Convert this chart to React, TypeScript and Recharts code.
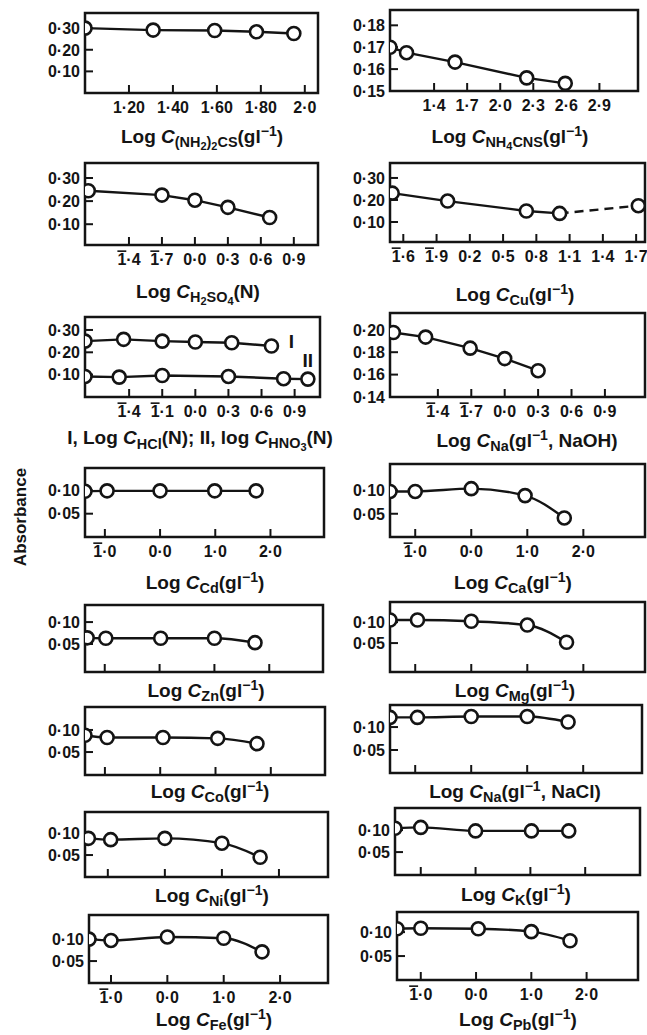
import React from 'react';
import { LineChart, Line, XAxis, YAxis, ReferenceArea, ReferenceDot } from 'recharts';

// ---- data ----
const thioX = [1.0, 1.31, 1.59, 1.78, 1.95];
const thioY = [0.3, 0.291, 0.289, 0.283, 0.275];
const thioTicks = [1.2, 1.4, 1.6, 1.8, 2.0];
const thioLabels = ['1·20', '1·40', '1·60', '1·80', '2·0'];

const cnsX = [1.0, 1.15, 1.59, 2.24, 2.59];
const cnsY = [0.17, 0.1675, 0.1632, 0.156, 0.1535];
const cnsTicks = [1.4, 1.7, 2.0, 2.3, 2.6, 2.9];
const cnsLabels = ['1·4', '1·7', '2·0', '2·3', '2·6', '2·9'];

const acidTicks = [-0.6, -0.3, 0, 0.3, 0.6, 0.9];
const sulfX = [-0.97, -0.3, 0.0, 0.3, 0.68];
const sulfY = [0.245, 0.226, 0.204, 0.173, 0.129];
const sulfLabels = ['1\u0305·4', '1\u0305·7', '0·0', '0·3', '0·6', '0·9'];

const cuX = [-0.5, 0.0, 0.71, 1.01];
const cuY = [0.231, 0.195, 0.15, 0.139];
const cuDashX = [1.01, 1.72];
const cuDashY = [0.139, 0.174];
const cuTicks = [-0.4, -0.1, 0.2, 0.5, 0.8, 1.1, 1.4, 1.7];
const cuLabels = ['1\u0305·6', '1\u0305·9', '0·2', '0·5', '0·8', '1·1', '1·4', '1·7'];

const hclX = [-1.0, -0.65, -0.3, 0.0, 0.33, 0.69];
const hclY = [0.25, 0.258, 0.25, 0.246, 0.243, 0.228];
const hno3X = [-1.0, -0.69, -0.3, 0.3, 0.8, 1.02];
const hno3Y = [0.092, 0.089, 0.096, 0.092, 0.082, 0.08];
const hclLabels = ['1\u0305·4', '1\u0305·1', '0·0', '0·3', '0·6', '0·9'];
const acidNames = ['I', 'II'];
const acidNameX = [0.87, 1.02];
const acidNameY = [0.25, 0.166];

const naohX = [-1.0, -0.71, -0.31, 0.0, 0.3];
const naohY = [0.1976, 0.1935, 0.1836, 0.1743, 0.1635];

const metalTicks = [-1, 0, 1, 2];
const metalLabels = ['1\u0305·0', '0·0', '1·0', '2·0'];
const cdX = [-1.36, -0.96, 0.0, 0.99, 1.74];
const cdY = [0.098, 0.099, 0.099, 0.099, 0.099];
const caX = [-1.45, -1.0, 0.0, 0.96, 1.66];
const caY = [0.098, 0.098, 0.104, 0.089, 0.041];
const znX = [-1.32, -0.98, 0.02, 1.0, 1.74];
const znY = [0.064, 0.063, 0.063, 0.063, 0.053];
const mgX = [-1.45, -0.96, 0.0, 1.0, 1.7];
const mgY = [0.105, 0.105, 0.102, 0.093, 0.052];
const coX = [-1.36, -0.96, 0.05, 1.04, 1.75];
const coY = [0.088, 0.083, 0.083, 0.081, 0.069];
const naclX = [-1.45, -0.96, 0.0, 1.0, 1.73];
const naclY = [0.121, 0.121, 0.123, 0.123, 0.111];
const niX = [-1.34, -0.95, 0.0, 1.0, 1.67];
const niY = [0.088, 0.085, 0.088, 0.077, 0.045];
const kX = [-1.47, -1.0, 0.0, 1.02, 1.7];
const kY = [0.104, 0.106, 0.098, 0.098, 0.098];
const feX = [-1.39, -1.0, 0.0, 1.0, 1.68];
const feY = [0.1, 0.097, 0.105, 0.102, 0.071];
const pbX = [-1.43, -1.0, 0.04, 1.0, 1.7];
const pbY = [0.107, 0.108, 0.107, 0.101, 0.082];

// ---- styling ----
const INK = '#141414';
const FONT = '"Liberation Sans", Arial, Helvetica, sans-serif';
const ML = 72;
const MB = 34;
const MT = 12;
const MR = 12;
const TICK_FS = 16;

const Sub = ({ children }: { children: React.ReactNode }) => (
  <span style={{ fontSize: '0.76em', verticalAlign: '-0.3em' }}>{children}</span>
);
const Sup = ({ children }: { children: React.ReactNode }) => (
  <span style={{ fontSize: '0.74em', verticalAlign: '0.5em' }}>{children}</span>
);
const C = () => <i>C</i>;
const gl = (
  <>
    (gl<Sup>−1</Sup>)
  </>
);

type Series = { xs: number[]; ys: number[]; dashed?: boolean };
type Panel = {
  box: [number, number, number, number];
  xDomain: [number, number];
  yDomain: [number, number];
  xTicks: number[];
  xLabels?: string[];
  yTicks: number[];
  curve: 'linear' | 'monotone';
  series: Series[];
  title: React.ReactNode;
  titleAt: [number, number];
  names?: boolean;
};

const panels: Panel[] = [
  {
    box: [85, 13, 233, 80], xDomain: [1.0, 2.06], yDomain: [0, 0.37],
    xTicks: thioTicks, xLabels: thioLabels, yTicks: [0.1, 0.2, 0.3], curve: 'linear',
    series: [{ xs: thioX, ys: thioY }],
    title: <>Log <C /><Sub>(NH<Sub>2</Sub>)<Sub>2</Sub>CS</Sub>{gl}</>, titleAt: [202, 138],
  },
  {
    box: [390, 10, 248, 81], xDomain: [1.0, 3.25], yDomain: [0.15, 0.187],
    xTicks: cnsTicks, xLabels: cnsLabels, yTicks: [0.15, 0.16, 0.17, 0.18], curve: 'linear',
    series: [{ xs: cnsX, ys: cnsY }],
    title: <>Log <C /><Sub>NH<Sub>4</Sub>CNS</Sub>{gl}</>, titleAt: [510, 138],
  },
  {
    box: [85, 163, 233, 82], xDomain: [-1.0, 1.12], yDomain: [0.01, 0.365],
    xTicks: acidTicks, xLabels: sulfLabels, yTicks: [0.1, 0.2, 0.3], curve: 'linear',
    series: [{ xs: sulfX, ys: sulfY }],
    title: <>Log <C /><Sub>H<Sub>2</Sub>SO<Sub>4</Sub></Sub>(N)</>, titleAt: [198, 295],
  },
  {
    box: [390, 163, 255, 79], xDomain: [-0.52, 1.78], yDomain: [0.009, 0.368],
    xTicks: cuTicks, xLabels: cuLabels, yTicks: [0.1, 0.2, 0.3], curve: 'linear',
    series: [{ xs: cuX, ys: cuY }, { xs: cuDashX, ys: cuDashY, dashed: true }],
    title: <>Log <C /><Sub>Cu</Sub>{gl}</>, titleAt: [515, 295],
  },
  {
    box: [85, 317, 235, 80], xDomain: [-1.0, 1.13], yDomain: [0, 0.358],
    xTicks: acidTicks, xLabels: hclLabels, yTicks: [0.1, 0.2, 0.3], curve: 'linear',
    series: [{ xs: hclX, ys: hclY }, { xs: hno3X, ys: hno3Y }],
    title: <>I, Log <C /><Sub>HCl</Sub>(N); II, log <C /><Sub>HNO<Sub>3</Sub></Sub>(N)</>, titleAt: [200, 441],
    names: true,
  },
  {
    box: [390, 313, 255, 84], xDomain: [-1.03, 1.26], yDomain: [0.14, 0.215],
    xTicks: acidTicks, xLabels: sulfLabels, yTicks: [0.14, 0.16, 0.18, 0.2], curve: 'linear',
    series: [{ xs: naohX, ys: naohY }],
    title: <>Log <C /><Sub>Na</Sub>(gl<Sup>−1</Sup>, NaOH)</>, titleAt: [527, 441],
  },
  {
    box: [85, 468, 239, 69], xDomain: [-1.36, 2.97], yDomain: [0, 0.148],
    xTicks: metalTicks, xLabels: metalLabels, yTicks: [0.05, 0.1], curve: 'monotone',
    series: [{ xs: cdX, ys: cdY }],
    title: <>Log <C /><Sub>Cd</Sub>{gl}</>, titleAt: [205, 583],
  },
  {
    box: [390, 464, 255, 73], xDomain: [-1.45, 3.1], yDomain: [0, 0.157],
    xTicks: metalTicks, xLabels: metalLabels, yTicks: [0.05, 0.1], curve: 'monotone',
    series: [{ xs: caX, ys: caY }],
    title: <>Log <C /><Sub>Ca</Sub>{gl}</>, titleAt: [513, 583],
  },
  {
    box: [85, 605, 238, 67], xDomain: [-1.36, 2.98], yDomain: [-0.014, 0.139],
    xTicks: metalTicks, yTicks: [0.05, 0.1], curve: 'monotone',
    series: [{ xs: znX, ys: znY }],
    title: <>Log <C /><Sub>Zn</Sub>{gl}</>, titleAt: [206, 691],
  },
  {
    box: [390, 602, 255, 70], xDomain: [-1.45, 3.1], yDomain: [-0.019, 0.148],
    xTicks: metalTicks, yTicks: [0.05, 0.1], curve: 'monotone',
    series: [{ xs: mgX, ys: mgY }],
    title: <>Log <C /><Sub>Mg</Sub>{gl}</>, titleAt: [515, 691],
  },
  {
    box: [85, 707, 240, 68], xDomain: [-1.36, 2.98], yDomain: [-0.002, 0.152],
    xTicks: metalTicks, yTicks: [0.05, 0.1], curve: 'monotone',
    series: [{ xs: coX, ys: coY }],
    title: <>Log <C /><Sub>Co</Sub>{gl}</>, titleAt: [210, 792],
  },
  {
    box: [390, 705, 252, 68], xDomain: [-1.45, 3.05], yDomain: [0, 0.148],
    xTicks: metalTicks, yTicks: [0.05, 0.1], curve: 'monotone',
    series: [{ xs: naclX, ys: naclY }],
    title: <>Log <C /><Sub>Na</Sub>(gl<Sup>−1</Sup>, NaCl)</>, titleAt: [515, 792],
  },
  {
    box: [85, 812, 243, 65], xDomain: [-1.4, 2.86], yDomain: [0, 0.148],
    xTicks: metalTicks, yTicks: [0.05, 0.1], curve: 'monotone',
    series: [{ xs: niX, ys: niY }],
    title: <>Log <C /><Sub>Ni</Sub>{gl}</>, titleAt: [212, 896],
  },
  {
    box: [395, 808, 245, 67], xDomain: [-1.47, 3.0], yDomain: [-0.002, 0.15],
    xTicks: metalTicks, yTicks: [0.05, 0.1], curve: 'monotone',
    series: [{ xs: kX, ys: kY }],
    title: <>Log <C /><Sub>K</Sub>{gl}</>, titleAt: [516, 895],
  },
  {
    box: [89, 915, 239, 68], xDomain: [-1.39, 2.85], yDomain: [0, 0.155],
    xTicks: metalTicks, xLabels: metalLabels, yTicks: [0.05, 0.1], curve: 'monotone',
    series: [{ xs: feX, ys: feY }],
    title: <>Log <C /><Sub>Fe</Sub>{gl}</>, titleAt: [214, 1020],
  },
  {
    box: [397, 912, 241, 68], xDomain: [-1.43, 2.93], yDomain: [0, 0.142],
    xTicks: metalTicks, xLabels: metalLabels, yTicks: [0.05, 0.1], curve: 'monotone',
    series: [{ xs: pbX, ys: pbY }],
    title: <>Log <C /><Sub>Pb</Sub>{gl}</>, titleAt: [518, 1020],
  },
];

const DOT_R = 6.5;
const DOT_W = 2.6;

// eslint-disable-next-line @typescript-eslint/no-explicit-any
function XTick(props: any) {
  const { x, y, payload, ticks, labels } = props;
  const i = (ticks as number[]).findIndex((t) => Math.abs(t - payload.value) < 1e-9);
  const label: string = labels && i >= 0 ? labels[i] : '';
  if (!label) return <g />;
  const bar = label[1] === '\u0305';
  return (
    <text x={x} y={y} dy="0.71em" textAnchor="middle" fontFamily={FONT} fontWeight={700} fontSize={TICK_FS} fill={INK}>
      {bar ? (
        <>
          <tspan style={{ textDecoration: 'overline' }}>{label[0]}</tspan>
          <tspan>{label.slice(2)}</tspan>
        </>
      ) : (
        label
      )}
    </text>
  );
}

// eslint-disable-next-line @typescript-eslint/no-explicit-any
function YTick(props: any) {
  const { x, y, payload } = props;
  return (
    <text x={x} y={y} dy="0.36em" textAnchor="end" fontFamily={FONT} fontWeight={700} fontSize={TICK_FS} fill={INK}>
      {Number(payload.value).toFixed(2).replace('.', '·')}
    </text>
  );
}

// circle marker clipped to the plot frame, so the edge points show as half circles
function makeDot(id: string, bw: number, bh: number, onlyLast: boolean) {
  // eslint-disable-next-line @typescript-eslint/no-explicit-any
  return (props: any) => {
    const { cx, cy, index, points } = props;
    const last = (points?.length ?? 1) - 1;
    if (onlyLast && index !== last) return <g key={`${id}-${index}`} />;
    const cid = `${id}-c${index}`;
    return (
      <g key={`${id}-${index}`}>
        <defs>
          <clipPath id={cid}>
            <rect x={ML} y={MT} width={bw} height={bh} />
          </clipPath>
        </defs>
        <circle cx={cx} cy={cy} r={DOT_R} fill="#fff" stroke={INK} strokeWidth={DOT_W} clipPath={`url(#${cid})`} />
      </g>
    );
  };
}

function PanelChart({ p, idx }: { p: Panel; idx: number }) {
  const [bx, by, bw, bh] = p.box;
  return (
    <>
      <div style={{ position: 'absolute', left: bx - ML, top: by - MT }}>
        <LineChart width={bw + ML + MR} height={bh + MT + MB} margin={{ top: MT, right: MR, bottom: 0, left: 0 }}>
          <XAxis
            type="number"
            dataKey="x"
            domain={p.xDomain}
            allowDataOverflow
            ticks={p.xTicks}
            interval={0}
            height={MB}
            axisLine={false}
            tickSize={-8}
            tickMargin={17}
            tickLine={{ stroke: INK, strokeWidth: 2 }}
            tick={(tp) => <XTick {...tp} ticks={p.xTicks} labels={p.xLabels} />}
          />
          <YAxis
            type="number"
            domain={p.yDomain}
            allowDataOverflow
            ticks={p.yTicks}
            interval={0}
            width={ML}
            axisLine={false}
            tickSize={-8}
            tickMargin={13}
            tickLine={{ stroke: INK, strokeWidth: 2 }}
            tick={(tp) => <YTick {...tp} />}
          />
          <ReferenceArea
            x1={p.xDomain[0]}
            x2={p.xDomain[1]}
            y1={p.yDomain[0]}
            y2={p.yDomain[1]}
            fill="none"
            fillOpacity={0}
            stroke={INK}
            strokeWidth={2.5}
          />
          {p.series.map((s, k) => (
            <Line
              key={k}
              data={s.xs.map((x, i) => ({ x, y: s.ys[i] }))}
              dataKey="y"
              type={p.curve}
              stroke={INK}
              strokeWidth={2.4}
              strokeDasharray={s.dashed ? '9 6' : undefined}
              dot={makeDot(`p${idx}s${k}`, bw, bh, !!s.dashed)}
              activeDot={false}
              isAnimationActive={false}
            />
          ))}
          {p.names &&
            acidNames.map((n, i) => (
              <ReferenceDot
                key={n}
                x={acidNameX[i]}
                y={acidNameY[i]}
                r={0}
                fill="none"
                stroke="none"
                label={{ value: n, position: 'center', fill: INK, fontSize: 19, fontWeight: 700, fontFamily: FONT }}
              />
            ))}
        </LineChart>
      </div>
      <div
        style={{
          position: 'absolute',
          left: p.titleAt[0],
          top: p.titleAt[1],
          transform: 'translate(-50%, -50%)',
          whiteSpace: 'nowrap',
          fontFamily: FONT,
          fontSize: 19,
          fontWeight: 700,
          color: INK,
          lineHeight: 1,
        }}
      >
        {p.title}
      </div>
    </>
  );
}

export default function App() {
  return (
    <div style={{ position: 'relative', width: 647, height: 1035, background: '#fff', overflow: 'hidden' }}>
      <style>{'body{margin:0}'}</style>
      {panels.map((p, i) => (
        <PanelChart key={i} p={p} idx={i} />
      ))}
      <div
        style={{
          position: 'absolute',
          left: 21,
          top: 517,
          transform: 'translate(-50%, -50%) rotate(-90deg)',
          fontFamily: FONT,
          fontSize: 17,
          fontWeight: 700,
          color: INK,
          whiteSpace: 'nowrap',
        }}
      >
        Absorbance
      </div>
    </div>
  );
}
